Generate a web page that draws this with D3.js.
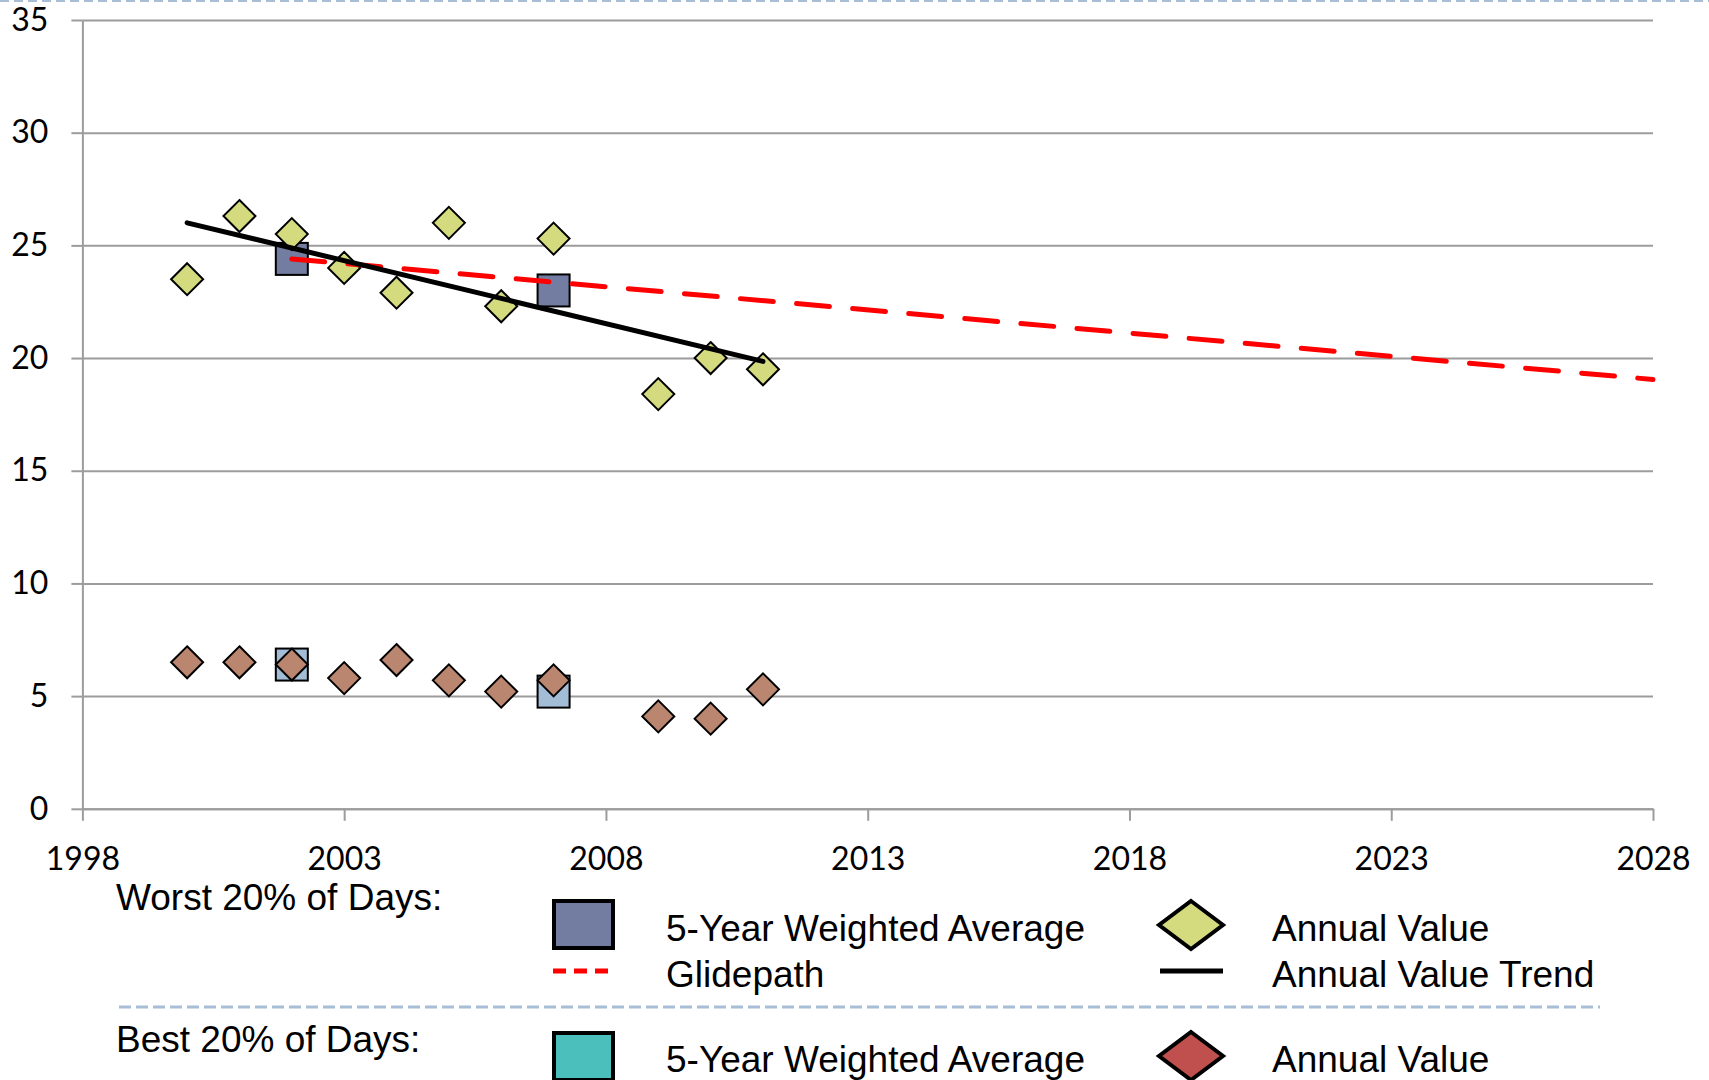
<!DOCTYPE html>
<html>
<head>
<meta charset="utf-8">
<script src="https://cdn.jsdelivr.net/npm/d3@7"></script>
<style>
  body { margin: 0; background: #fff; }
  svg { display: block; }
</style>
</head>
<body>
<div id="chart"></div>
<script>
// values
let annual_years   = [2000, 2001, 2002, 2003, 2004, 2005, 2006, 2007, 2009, 2010, 2011];
let worst_annual   = [23.5, 26.3, 25.5, 24.0, 22.9, 26.0, 22.3, 25.3, 18.4, 20.0, 19.5];
let best_annual    = [6.5, 6.5, 6.4, 5.8, 6.6, 5.7, 5.2, 5.7, 4.1, 4.0, 5.3];
let avg_years      = [2002, 2007];
let worst_avg      = [24.4, 23.0];
let best_avg       = [6.4, 5.2];
let glide_years    = [2002, 2028];
let glide_values   = [24.4, 19.05];
let trend_years    = [2000, 2011];
let trend_values   = [26.0, 19.85];
let x_ticks        = [1998, 2003, 2008, 2013, 2018, 2023, 2028];
let y_ticks        = [0, 5, 10, 15, 20, 25, 30, 35];

let chart_width  = 1709;
let chart_height = 1080;
let plot_left = 82.4, plot_right = 1653, plot_top = 20, plot_bottom = 808.8;

let svg = d3.select('#chart')
  .append('svg')
  .attr('width', chart_width)
  .attr('height', chart_height);

//scales
let x_scale = d3.scaleLinear().domain([1998, 2028]).range([plot_left, plot_right]);
let y_scale = d3.scaleLinear().domain([0, 35]).range([plot_bottom, plot_top]);

// dashed line along the top edge
svg.append('line')
  .attr('x1', 0).attr('x2', chart_width)
  .attr('y1', 1).attr('y2', 1)
  .attr('stroke', '#A7BED6').attr('stroke-width', 2)
  .attr('stroke-dasharray', '9,5');

//grid
svg.append('g')
  .attr('transform', 'translate(' + plot_left + ',0)')
  .call(d3.axisLeft(y_scale).tickValues(y_ticks).tickSize(-(plot_right - plot_left)).tickFormat(''))
  .call(g => g.select('.domain').remove())
  .call(g => g.selectAll('line').attr('stroke', '#9C9C9C').attr('stroke-width', 2));

//axes
svg.append('g')
  .attr('class', 'y-axis')
  .attr('transform', 'translate(' + plot_left + ',0)')
  .call(d3.axisLeft(y_scale).tickValues(y_ticks).tickSize(11).tickSizeOuter(0).tickPadding(23))
  .call(g => g.select('.domain').attr('stroke', '#9C9C9C').attr('stroke-width', 2))
  .call(g => g.selectAll('line').attr('stroke', '#9C9C9C').attr('stroke-width', 2))
  .call(g => g.selectAll('text').attr('font-family', 'Lato, sans-serif').attr('font-size', 32).attr('fill', '#000'));

svg.append('g')
  .attr('class', 'x-axis')
  .attr('transform', 'translate(0,' + plot_bottom + ')')
  .call(d3.axisBottom(x_scale).tickValues(x_ticks).tickFormat(d3.format('d')).tickSize(12).tickSizeOuter(0).tickPadding(26))
  .call(g => g.select('.domain').attr('stroke', '#9C9C9C').attr('stroke-width', 2))
  .call(g => g.selectAll('line').attr('stroke', '#9C9C9C').attr('stroke-width', 2))
  .call(g => g.selectAll('text').attr('font-family', 'Lato, sans-serif').attr('font-size', 32).attr('fill', '#000'));

// marker helpers
let sq = 32;
function diamond(w, h) {
  return 'M0,' + (-h / 2) + 'L' + (w / 2) + ',0L0,' + (h / 2) + 'L' + (-w / 2) + ',0Z';
}

function squares(years, vals, fill) {
  svg.append('g')
    .selectAll('rect')
    .data(years.map((d, i) => [d, vals[i]]))
    .enter()
    .append('rect')
    .attr('x', d => x_scale(d[0]) - sq / 2)
    .attr('y', d => y_scale(d[1]) - sq / 2)
    .attr('width', sq).attr('height', sq)
    .attr('fill', fill).attr('stroke', '#000').attr('stroke-width', 2);
}

function diamonds(years, vals, fill) {
  svg.append('g')
    .selectAll('path')
    .data(years.map((d, i) => [d, vals[i]]))
    .enter()
    .append('path')
    .attr('d', diamond(32, 32))
    .attr('transform', d => 'translate(' + x_scale(d[0]) + ',' + y_scale(d[1]) + ')')
    .attr('fill', fill).attr('stroke', '#000').attr('stroke-width', 2);
}

let line = d3.line().x(d => x_scale(d[0])).y(d => y_scale(d[1]));

//worst 20%
squares(avg_years, worst_avg, '#737CA1');
diamonds(annual_years, worst_annual, '#D4DA7E');

svg.append('path')
  .datum(glide_years.map((d, i) => [d, glide_values[i]]))
  .attr('d', line)
  .attr('fill', 'none').attr('stroke', '#FF0000').attr('stroke-width', 5)
  .attr('stroke-linecap', 'round').attr('stroke-dasharray', '33,23.3');

svg.append('path')
  .datum(trend_years.map((d, i) => [d, trend_values[i]]))
  .attr('d', line)
  .attr('fill', 'none').attr('stroke', '#000').attr('stroke-width', 5)
  .attr('stroke-linecap', 'round');

//best 20%
squares(avg_years, best_avg, '#A4BDD7');
diamonds(annual_years, best_annual, '#BB8670');

//legend
let lg = svg.append('g')
  .attr('font-family', '"Liberation Sans", Arial, sans-serif')
  .attr('font-size', 37)
  .attr('fill', '#000');

lg.append('text').attr('x', 116).attr('y', 910).text('Worst 20% of Days:');
lg.append('text').attr('x', 116).attr('y', 1052).text('Best 20% of Days:');

lg.append('rect').attr('x', 554).attr('y', 901).attr('width', 59).attr('height', 47)
  .attr('fill', '#737CA1').attr('stroke', '#000').attr('stroke-width', 4);
lg.append('rect').attr('x', 554).attr('y', 1033).attr('width', 59).attr('height', 47)
  .attr('fill', '#4BBFBB').attr('stroke', '#000').attr('stroke-width', 4);

lg.append('line').attr('x1', 553).attr('x2', 613).attr('y1', 971).attr('y2', 971)
  .attr('stroke', '#FF0000').attr('stroke-width', 5).attr('stroke-dasharray', '13,8');
lg.append('line').attr('x1', 1160).attr('x2', 1223).attr('y1', 971).attr('y2', 971)
  .attr('stroke', '#000').attr('stroke-width', 5);

lg.append('path').attr('d', diamond(64, 48)).attr('transform', 'translate(1191,925)')
  .attr('fill', '#D4DA7E').attr('stroke', '#000').attr('stroke-width', 4);
lg.append('path').attr('d', diamond(64, 48)).attr('transform', 'translate(1191,1056)')
  .attr('fill', '#C0504D').attr('stroke', '#000').attr('stroke-width', 4);

lg.append('text').attr('x', 666).attr('y', 941).text('5-Year Weighted Average');
lg.append('text').attr('x', 666).attr('y', 987).text('Glidepath');
lg.append('text').attr('x', 1272).attr('y', 941).text('Annual Value');
lg.append('text').attr('x', 1272).attr('y', 987).text('Annual Value Trend');
lg.append('text').attr('x', 666).attr('y', 1072).text('5-Year Weighted Average');
lg.append('text').attr('x', 1272).attr('y', 1072).text('Annual Value');

lg.append('line').attr('x1', 119).attr('x2', 1600).attr('y1', 1007).attr('y2', 1007)
  .attr('stroke', '#A7BED6').attr('stroke-width', 3).attr('stroke-dasharray', '12,5');
</script>
</body>
</html>
